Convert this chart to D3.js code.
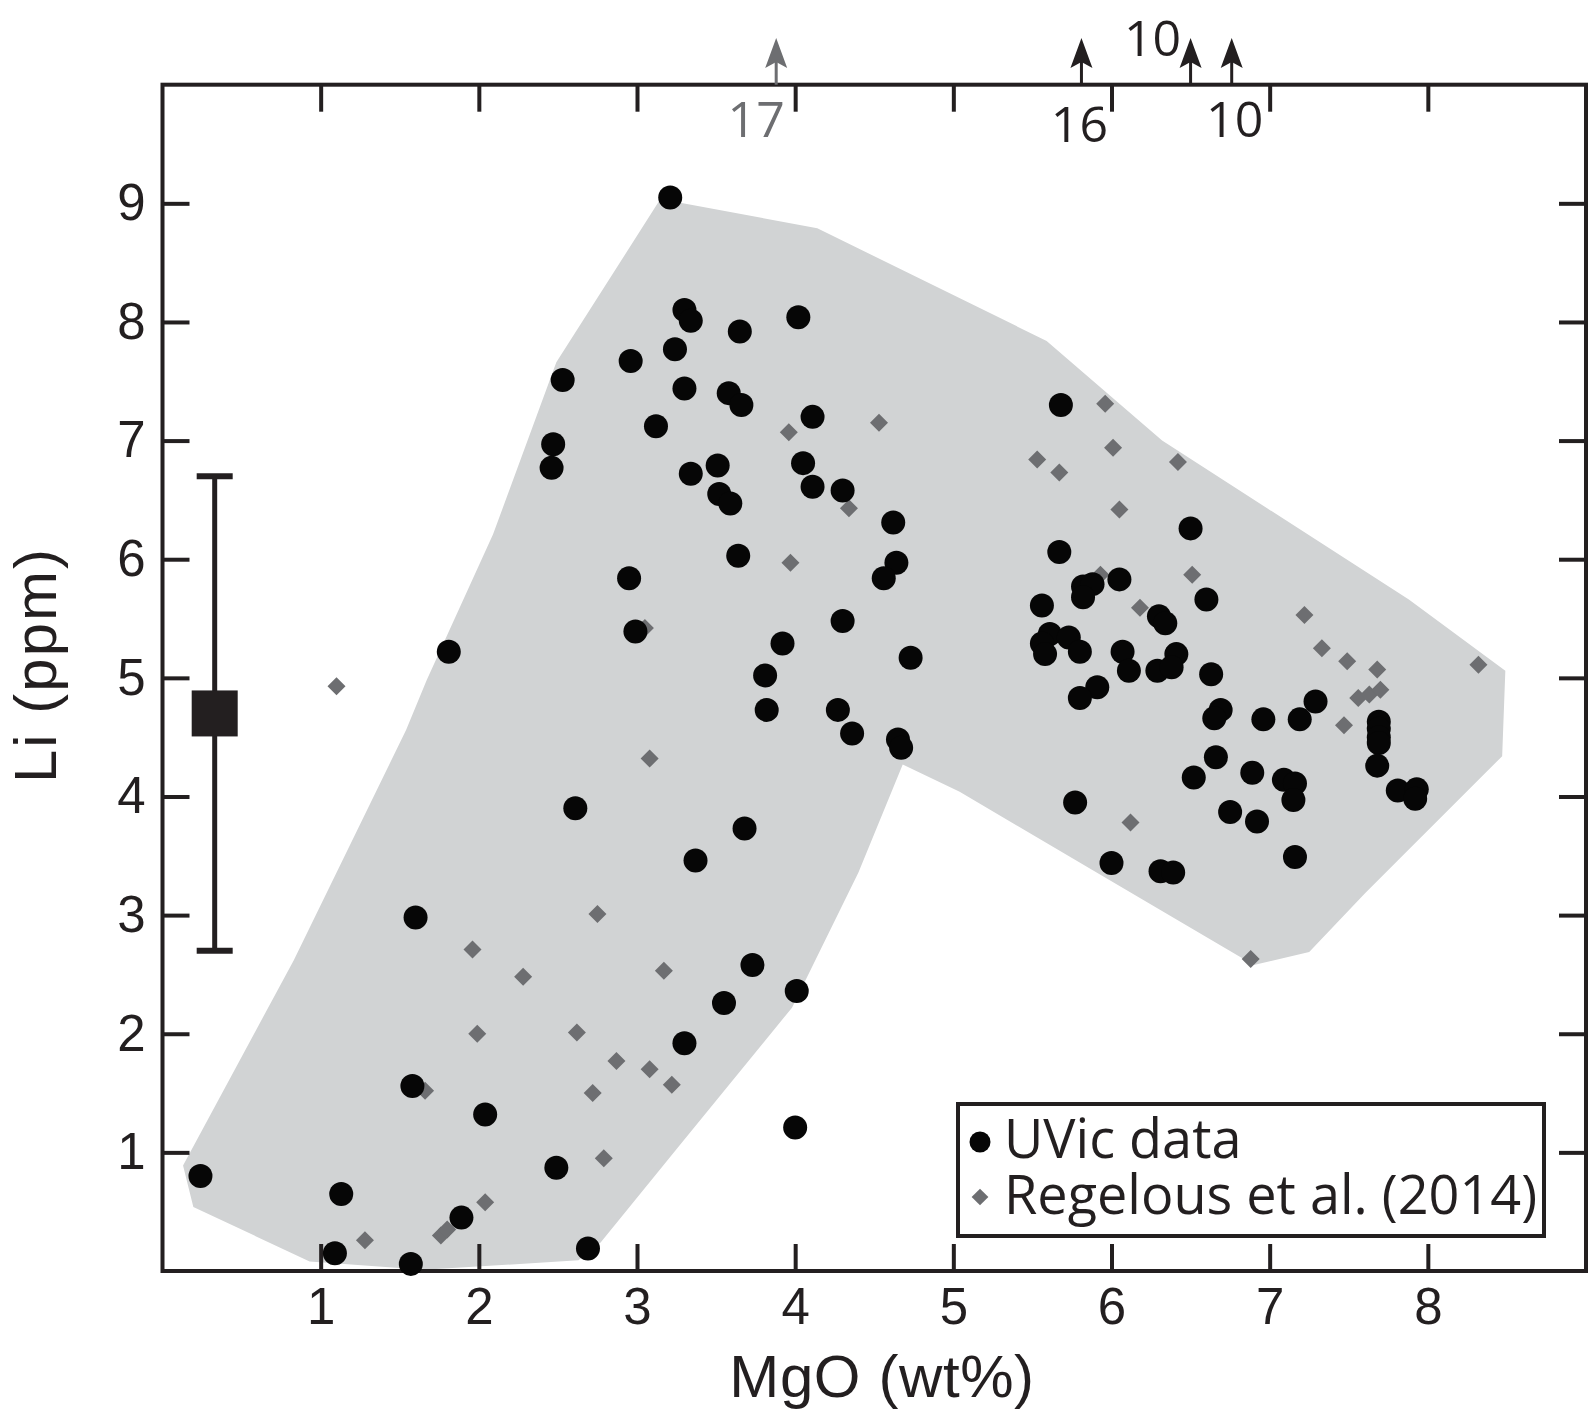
<!DOCTYPE html>
<html lang="en">
<head>
  <meta charset="UTF-8">
  <title>Li vs MgO</title>
  <style>
    body { margin: 0; background: #fff; }
    svg { display: block; }
  </style>
</head>
<body>
  <div id="svg"></div>

  <script src="https://d3js.org/d3.v7.min.js"></script>

  <script>
    // UVic data (MgO wt%, Li ppm)
    const uvicMgO = [0.24, 1.13, 1.09, 1.57, 1.60, 1.58, 1.81, 1.89, 2.04, 2.49, 2.69, 2.61, 2.53, 2.47, 2.46,
      2.95, 2.99, 2.96, 3.12, 3.21, 3.30, 3.34, 3.24, 3.30, 3.34, 3.37, 3.30, 3.55, 3.73, 3.68,
      3.58, 3.66, 3.65, 3.51, 3.52, 3.59, 3.64, 3.81, 3.82, 3.92, 4.02, 4.05, 4.11, 4.11, 4.30,
      4.30, 4.27, 4.36, 4.01, 4.00, 4.62, 4.64, 4.56, 4.73, 4.65, 4.67, 5.68, 5.67, 5.56, 5.61,
      5.56, 5.58, 5.73, 5.80, 5.82, 5.88, 5.82, 6.05, 6.07, 6.11, 5.91, 5.80, 5.77, 6.00, 6.31,
      6.39, 6.30, 6.34, 6.29, 6.41, 6.38, 6.50, 6.60, 6.63, 6.69, 6.65, 6.66, 6.52, 6.75, 6.92,
      6.89, 6.96, 7.09, 7.16, 7.15, 7.16, 7.19, 7.29, 7.69, 7.69, 7.69, 7.69, 7.68, 7.81, 7.93, 7.92]
    const uvicLi = [0.80, 0.65, 0.15, 0.06, 2.98, 1.56, 5.22, 0.45, 1.32, 0.87, 0.19, 3.90, 7.51, 6.97, 6.77,
      5.84, 5.39, 7.67, 7.12, 9.05, 8.10, 8.01, 7.77, 7.44, 6.72, 3.46, 1.92, 2.26, 2.58, 3.73,
      7.40, 7.30, 7.92, 6.79, 6.55, 6.47, 6.03, 5.02, 4.73, 5.29, 8.04, 6.81, 7.20, 6.61, 6.58,
      5.48, 4.73, 4.53, 2.36, 1.21, 6.31, 5.97, 5.84, 5.17, 4.48, 4.41, 7.30, 6.06, 5.61, 5.37,
      5.29, 5.20, 5.34, 5.22, 5.77, 5.79, 5.68, 5.83, 5.22, 5.06, 4.92, 4.83, 3.95, 3.44, 3.37,
      3.36, 5.52, 5.46, 5.06, 5.20, 5.09, 6.26, 5.66, 5.03, 4.73, 4.66, 4.33, 4.16, 3.87, 3.79,
      4.20, 4.65, 4.14, 4.11, 3.97, 3.49, 4.65, 4.80, 4.63, 4.57, 4.50, 4.45, 4.26, 4.05, 4.06, 3.98]

    // Regelous et al. (2014)
    const regMgO = [1.10, 1.28, 1.66, 1.76, 1.80, 1.96, 1.99, 2.04, 2.28, 2.62, 2.72, 2.75, 2.79, 2.87, 3.08,
      3.08, 3.17, 3.22, 3.05, 3.96, 3.97, 4.34, 4.53, 5.53, 5.67, 5.96, 6.01, 6.05, 5.93, 6.18,
      6.12, 6.42, 6.51, 6.88, 7.22, 7.33, 7.47, 7.49, 7.56, 7.63, 7.68, 7.70, 8.32]
    const regLi = [4.93, 0.26, 1.52, 0.30, 0.35, 2.71, 2.00, 0.58, 2.48, 2.01, 1.50, 3.01, 0.95, 1.77, 4.32,
      1.70, 2.53, 1.57, 5.42, 7.07, 5.97, 6.43, 7.15, 6.84, 6.73, 7.31, 6.94, 6.42, 5.87, 5.59,
      3.78, 6.82, 5.87, 2.63, 5.53, 5.25, 4.60, 5.14, 4.83, 4.86, 5.07, 4.90, 5.11]

    // outline of the shaded field
    const fieldMgO = [3.15, 3.29, 4.14, 5.59, 6.32, 7.88, 8.49, 8.47, 7.81, 7.60, 7.25, 6.90, 5.93, 5.04,
      4.68, 4.40, 3.98, 3.27, 2.77, 2.63, 1.65, 0.93, 0.195, 0.13, 0.83, 1.54, 1.67, 2.09, 2.49]
    const fieldLi = [9.04, 9.00, 8.79, 7.84, 7.00, 5.66, 5.06, 4.34, 3.46, 3.18, 2.69, 2.58, 3.34, 4.04,
      4.27, 3.36, 2.22, 1.06, 0.24, 0.09, 0.01, 0.08, 0.54, 0.89, 2.62, 4.56, 4.98, 6.21, 7.66]

    // off-scale samples shown as arrows on the top axis
    const offMgO = [3.88, 5.81, 6.50, 6.76]
    const offLi = ['17', '16', '10', '10']
    const offSource = ['reg', 'uvic', 'uvic', 'uvic']

    // typical uncertainty bar
    const errMgO = 0.33
    const errLi = [2.7, 4.7, 6.7]

    const xTicks = [1, 2, 3, 4, 5, 6, 7, 8]
    const yTicks = [1, 2, 3, 4, 5, 6, 7, 8, 9]

    const width = 1591
    const height = 1416
    const ink = '#231f20'
    const grey = '#6d6e71'
    const helv = '"Liberation Sans", Arial, Helvetica, sans-serif'
    const myriad = '"Open Sans", "Noto Sans", sans-serif'

    const svg = d3.select('#svg').append('svg').attr('width', width).attr('height', height)

    const x = d3.scaleLinear().domain([0, 9]).range([162.5, 1586])
    const y = d3.scaleLinear().domain([0, 10]).range([1271, 84.7])

    // shaded field
    const fieldLine = d3.line().x(d => x(d[0])).y(d => y(d[1])).curve(d3.curveLinearClosed)
    svg.append('path')
      .attr('d', fieldLine(d3.zip(fieldMgO, fieldLi)))
      .attr('fill', '#d1d3d4')

    // axes, ticks pointing inward
    const tickLen = 27
    const styleAxis = g => {
      g.select('.domain').remove()
      g.selectAll('.tick line').attr('stroke', ink).attr('stroke-width', 4)
      g.selectAll('.tick text').attr('fill', ink).attr('font-family', helv).attr('font-size', 51)
    }

    svg.append('g').attr('transform', `translate(0,${y(0)})`)
      .call(d3.axisBottom(x).tickValues(xTicks).tickSize(-tickLen).tickPadding(17).tickFormat(d3.format('d')))
      .call(styleAxis)
    svg.append('g').attr('transform', `translate(0,${y(10)})`)
      .call(d3.axisTop(x).tickValues(xTicks).tickSize(-tickLen).tickFormat(''))
      .call(styleAxis)
    svg.append('g').attr('transform', `translate(${x(0)},0)`)
      .call(d3.axisLeft(y).tickValues(yTicks).tickSize(-tickLen).tickPadding(17).tickFormat(d3.format('d')))
      .call(styleAxis)
    svg.append('g').attr('transform', `translate(${x(9)},0)`)
      .call(d3.axisRight(y).tickValues(yTicks).tickSize(-tickLen).tickFormat(''))
      .call(styleAxis)

    svg.append('rect')
      .attr('x', x(0)).attr('y', y(10))
      .attr('width', x(9) - x(0)).attr('height', y(0) - y(10))
      .attr('fill', 'none').attr('stroke', ink).attr('stroke-width', 4)

    // axis titles
    svg.append('text')
      .attr('x', 882).attr('y', 1397)
      .attr('text-anchor', 'middle')
      .attr('font-family', helv).attr('font-size', 60).attr('letter-spacing', 0.6).attr('fill', ink)
      .text('MgO (wt%)')
    svg.append('text')
      .attr('transform', 'translate(56,665) rotate(-90)')
      .attr('text-anchor', 'middle')
      .attr('font-family', helv).attr('font-size', 60).attr('letter-spacing', 2).attr('fill', ink)
      .text('Li (ppm)')

    // uncertainty bar
    const eb = svg.append('g').attr('stroke', ink).attr('stroke-width', 5)
    eb.append('line').attr('x1', x(errMgO)).attr('x2', x(errMgO)).attr('y1', y(errLi[0])).attr('y2', y(errLi[2]))
    eb.selectAll('.cap').data([errLi[0], errLi[2]]).enter().append('line')
      .attr('x1', x(errMgO) - 18).attr('x2', x(errMgO) + 18)
      .attr('y1', d => y(d)).attr('y2', d => y(d)).attr('stroke-width', 6)
    svg.append('rect')
      .attr('x', x(errMgO) - 23).attr('y', y(errLi[1]) - 23)
      .attr('width', 46).attr('height', 46).attr('fill', ink)

    // Regelous diamonds
    const diamond = d3.symbol().type(d3.symbolSquare).size(162)
    svg.append('g').selectAll('path').data(d3.zip(regMgO, regLi)).enter().append('path')
      .attr('d', diamond)
      .attr('transform', d => `translate(${x(d[0])},${y(d[1])}) rotate(45)`)
      .attr('fill', grey)

    // UVic circles
    svg.append('g').selectAll('circle').data(d3.zip(uvicMgO, uvicLi)).enter().append('circle')
      .attr('cx', d => x(d[0])).attr('cy', d => y(d[1])).attr('r', 12)
      .attr('fill', '#060606')

    // off-scale arrows
    const labelDx = [-20, -2, -38, 3]
    const labelY = [137, 142, 56, 137]
    const off = svg.append('g')
    offMgO.forEach((m, i) => {
      const c = offSource[i] === 'reg' ? grey : ink
      const ax = x(m)
      off.append('line').attr('x1', ax).attr('x2', ax).attr('y1', y(10)).attr('y2', 62)
        .attr('stroke', c).attr('stroke-width', 3)
      off.append('path')
        .attr('d', `M${ax},38 L${ax + 11},68 L${ax},62 L${ax - 11},68 Z`)
        .attr('fill', c)
      off.append('text')
        .attr('x', ax + labelDx[i]).attr('y', labelY[i])
        .attr('text-anchor', 'middle')
        .attr('font-family', myriad).attr('font-size', 50).attr('fill', c)
        .text(offLi[i])
    })

    // legend
    const lg = svg.append('g')
    lg.append('rect').attr('x', 958).attr('y', 1104).attr('width', 586).attr('height', 132)
      .attr('fill', '#fff').attr('stroke', ink).attr('stroke-width', 4)
    lg.append('circle').attr('cx', 980).attr('cy', 1142).attr('r', 10.5).attr('fill', '#060606')
    lg.append('path').attr('d', d3.symbol().type(d3.symbolSquare).size(140))
      .attr('transform', 'translate(980,1197) rotate(45)').attr('fill', grey)
    lg.append('text').attr('x', 1004).attr('y', 1158)
      .attr('font-family', myriad).attr('font-size', 54).attr('fill', ink)
      .text('UVic data')
    lg.append('text').attr('x', 1004).attr('y', 1214)
      .attr('font-family', myriad).attr('font-size', 54).attr('fill', ink)
      .text('Regelous et al. (2014)')
  </script>
</body>

</html>
